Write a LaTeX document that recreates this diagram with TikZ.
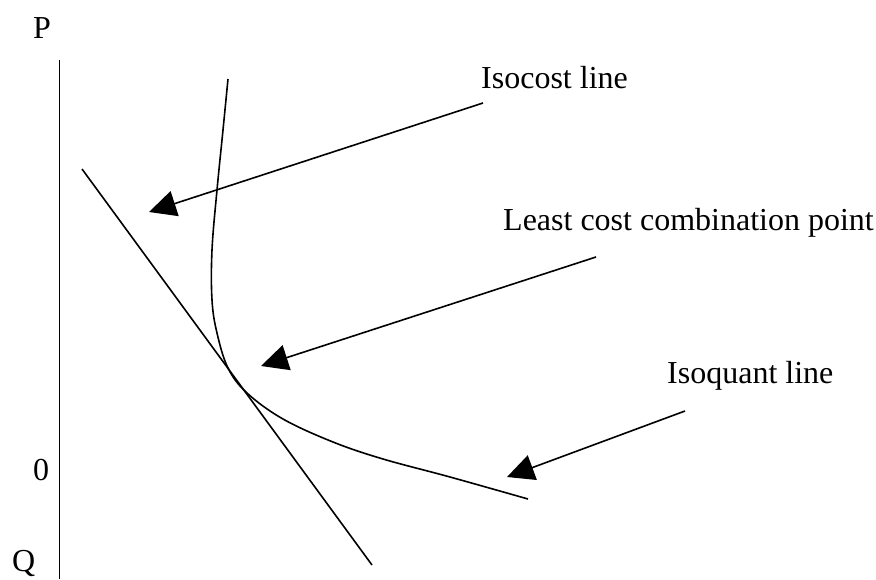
\documentclass[tikz,border=0pt]{standalone}
\usepackage{fontspec}
\setmainfont{Liberation Serif}
\usetikzlibrary{arrows.meta}
\begin{document}
\begin{tikzpicture}[x=1pt,y=-1pt,
  lbl/.style={anchor=base west,inner sep=0pt,font=\fontsize{32}{38}\selectfont},
  ln/.style={line width=1.6pt},
  pointer/.style={line width=1.6pt,-{Triangle[length=27pt,width=26pt]}}]
\useasboundingbox (0,0) rectangle (876,579);
% axis
\coordinate (axtop) at (59.5,59.5);
\coordinate (axbot) at (59.5,579);
\draw[ln] (axtop) -- (axbot);
\node[lbl] (P) at (33,38) {P};
\node[lbl] (zero) at (33,480) {0};
\node[lbl] (Q) at (12,571) {Q};
% isocost line
\coordinate (ic1) at (82,169);
\coordinate (ic2) at (372,565);
\draw[ln] (ic1) -- (ic2);
% isoquant curve
\draw[ln] plot[smooth,tension=0.6] coordinates {(228,79) (223,130) (217,190) (212,250) (212,300) (217,333) (228,368) (247,393) (283,419) (333,442) (383,459) (450,477) (528,499)};
% labels
\node[lbl] (isocost) at (481,88) {Isocost line};
\node[lbl] (least) at (503,230) {Least cost combination point};
\node[lbl] (isoquant) at (667,383) {Isoquant line};
% arrows
\coordinate (a1s) at (483,103);
\coordinate (a1e) at (149,212);
\coordinate (a2s) at (596,257);
\coordinate (a2e) at (261,366);
\coordinate (a3s) at (685,411);
\coordinate (a3e) at (507,477);
\draw[pointer] (a1s) -- (a1e);
\draw[pointer] (a2s) -- (a2e);
\draw[pointer] (a3s) -- (a3e);
\end{tikzpicture}
\end{document}
